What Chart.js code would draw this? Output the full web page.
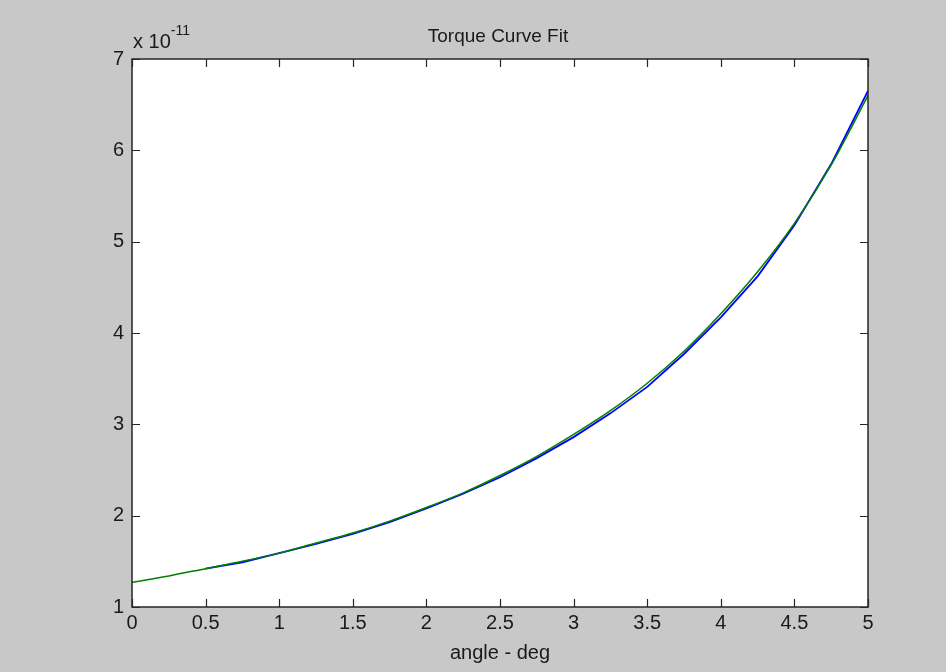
<!DOCTYPE html>
<html>
<head>
<meta charset="utf-8">
<title>Torque Curve Fit</title>
<script src="https://cdn.jsdelivr.net/npm/chart.js@4.4.0/dist/chart.umd.min.js"></script>
<style>
    body { margin: 0; background: #c8c8c8; }
    canvas { display: block; }
</style>
</head>
<body>
<canvas id="torqueChart" width="946" height="672"></canvas>
<script>
// --------- Data (torque in units of 1e-11) --------

const measuredAngles = [0.5, 0.75, 1, 1.25, 1.5, 1.75, 2, 2.25, 2.5, 2.75, 3, 3.25, 3.5, 3.75, 4, 4.25, 4.5, 4.75, 5];
const measuredTorque = [1.42, 1.49, 1.59, 1.69, 1.80, 1.93, 2.08, 2.24, 2.42, 2.63, 2.86, 3.12, 3.41, 3.77, 4.17, 4.62, 5.18, 5.85, 6.65];

const fitAngles = [0, 0.25, 0.5, 0.75, 1, 1.25, 1.5, 1.75, 2, 2.25, 2.5, 2.75, 3, 3.25, 3.5, 3.75, 4, 4.25, 4.5, 4.75, 5];
const fitTorque = [1.27, 1.34, 1.42, 1.50, 1.59, 1.70, 1.81, 1.94, 2.09, 2.25, 2.44, 2.65, 2.89, 3.15, 3.45, 3.80, 4.21, 4.67, 5.20, 5.84, 6.60];

const xTicks = [0, 0.5, 1, 1.5, 2, 2.5, 3, 3.5, 4, 4.5, 5];
const yTicks = [1, 2, 3, 4, 5, 6, 7];

const FONT = "'Liberation Sans', Arial, sans-serif";

const toPoints = (xs, ys) => xs.map((x, i) => ({ x: x, y: ys[i] }));

// --------- MATLAB-style frame: white axes box, inner ticks, title, exponent --------

const matlabFrame = {
    id: 'matlabFrame',
    beforeDatasetsDraw(chart) {
        const { ctx, chartArea: a } = chart;
        ctx.save();
        ctx.fillStyle = '#ffffff';
        ctx.fillRect(a.left, a.top, a.right - a.left, a.bottom - a.top);
        ctx.restore();
    },
    afterDraw(chart) {
        const { ctx, chartArea: a, scales } = chart;
        ctx.save();
        ctx.strokeStyle = '#262626';
        ctx.lineWidth = 1.5;
        ctx.strokeRect(a.left, a.top, a.right - a.left, a.bottom - a.top);

        // inner ticks on all four sides
        ctx.lineWidth = 1.2;
        const len = 8;
        ctx.beginPath();
        xTicks.forEach(v => {
            const px = Math.round(scales.x.getPixelForValue(v)) + 0.5;
            ctx.moveTo(px, a.bottom); ctx.lineTo(px, a.bottom - len);
            ctx.moveTo(px, a.top); ctx.lineTo(px, a.top + len);
        });
        yTicks.forEach(v => {
            const py = Math.round(scales.y.getPixelForValue(v)) + 0.5;
            ctx.moveTo(a.left, py); ctx.lineTo(a.left + len, py);
            ctx.moveTo(a.right, py); ctx.lineTo(a.right - len, py);
        });
        ctx.stroke();

        // title
        ctx.fillStyle = '#1a1a1a';
        ctx.textAlign = 'center';
        ctx.textBaseline = 'middle';
        ctx.font = '19px ' + FONT;
        ctx.fillText('Torque Curve Fit', (a.left + a.right) / 2 - 2, 37);

        // axis label
        ctx.font = '20px ' + FONT;
        ctx.fillText('angle - deg', (a.left + a.right) / 2, 653);

        // exponent label
        ctx.textAlign = 'left';
        ctx.textBaseline = 'alphabetic';
        ctx.font = '20px ' + FONT;
        ctx.fillText('x 10', a.left + 1, 48);
        const w = ctx.measureText('x 10').width;
        ctx.font = '14px ' + FONT;
        ctx.fillText('-11', a.left + 1 + w, 35);
        ctx.restore();
    }
};

const ctx = document.getElementById('torqueChart').getContext('2d');
const torqueChart = new Chart(ctx, {
    type: 'line',
    data: {
        datasets: [{
            label: 'Fit',
            data: toPoints(fitAngles, fitTorque),
            borderColor: '#008000',
            borderWidth: 1.5,
            pointRadius: 0,
            cubicInterpolationMode: 'monotone',
            fill: false
        }, {
            label: 'Measured',
            data: toPoints(measuredAngles, measuredTorque),
            borderColor: '#0000ff',
            borderWidth: 1.8,
            pointRadius: 0,
            tension: 0,
            fill: false
        }]
    },
    options: {
        responsive: false,
        animation: false,
        layout: { padding: { top: 59, right: 78, left: 0, bottom: 0 } },
        plugins: {
            legend: { display: false },
            title: { display: false },
            tooltip: { enabled: false }
        },
        scales: {
            x: {
                type: 'linear',
                min: 0,
                max: 5,
                afterBuildTicks: (scale) => { scale.ticks = xTicks.map(v => ({ value: v })); },
                afterFit: (scale) => { scale.height = 65; },
                grid: { display: false, drawTicks: false },
                border: { display: false },
                ticks: {
                    padding: 4,
                    color: '#1a1a1a',
                    font: { family: FONT, size: 20 },
                    maxRotation: 0,
                    autoSkip: false,
                    callback: (v) => String(v)
                }
            },
            y: {
                type: 'linear',
                min: 1,
                max: 7,
                afterBuildTicks: (scale) => { scale.ticks = yTicks.map(v => ({ value: v })); },
                afterFit: (scale) => { scale.width = 132; },
                grid: { display: false, drawTicks: false },
                border: { display: false },
                ticks: {
                    padding: 8,
                    color: '#1a1a1a',
                    font: { family: FONT, size: 20 },
                    callback: (v) => String(v)
                }
            }
        }
    },
    plugins: [matlabFrame]
});
</script>
</body>
</html>
